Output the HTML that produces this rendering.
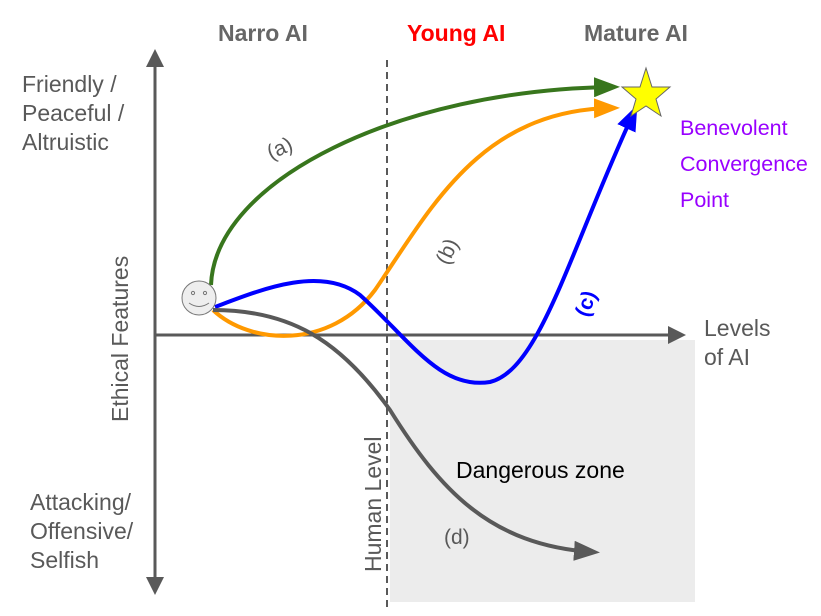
<!DOCTYPE html>
<html><head><style>body{margin:0;background:#fff}svg{display:block;font-family:"Liberation Sans",sans-serif}</style></head>
<body>
<svg width="821" height="616" viewBox="0 0 821 616" xmlns="http://www.w3.org/2000/svg">
<defs>
<marker id="ag" markerWidth="6.5" markerHeight="5" refX="4.5" refY="2.5" orient="auto" markerUnits="strokeWidth"><path d="M0,0 L6.5,2.5 L0,5z" fill="#38761d"/></marker>
<marker id="ao" markerWidth="6.5" markerHeight="5" refX="4.5" refY="2.5" orient="auto" markerUnits="strokeWidth"><path d="M0,0 L6.5,2.5 L0,5z" fill="#ff9900"/></marker>
<marker id="ab" markerWidth="6.5" markerHeight="5" refX="4.5" refY="2.5" orient="auto" markerUnits="strokeWidth"><path d="M0,0 L6.5,2.5 L0,5z" fill="#0000ff"/></marker>
<marker id="ad" markerWidth="6.5" markerHeight="5" refX="4.5" refY="2.5" orient="auto" markerUnits="strokeWidth"><path d="M0,0 L6.5,2.5 L0,5z" fill="#595959"/></marker>
<marker id="ax" markerWidth="6" markerHeight="6" refX="5" refY="3" orient="auto" markerUnits="strokeWidth"><path d="M0,0 L6,3 L0,6z" fill="#595959"/></marker>
</defs>
<rect x="390" y="340" width="305" height="262" fill="#ececec"/>
<line x1="155" y1="590" x2="155" y2="52" stroke="#595959" stroke-width="3" marker-end="url(#ax)"/>
<line x1="155" y1="100" x2="155" y2="592" stroke="#595959" stroke-width="3" marker-end="url(#ax)"/>
<line x1="155" y1="335" x2="683" y2="335" stroke="#595959" stroke-width="3" marker-end="url(#ax)"/>
<line x1="387" y1="60" x2="387" y2="610" stroke="#595959" stroke-width="2" stroke-dasharray="7,5"/>
<path d="M211,285 C215,180 400,90 612,87" fill="none" stroke="#38761d" stroke-width="4" marker-end="url(#ag)"/>
<path d="M213,310 C250,345 330,350 375,290 C430,210 480,110 612,108" fill="none" stroke="#ff9900" stroke-width="4" marker-end="url(#ao)"/>
<path d="M215,307 C260,290 320,265 360,295 C410,340 440,390 490,382 C540,370 570,250 634,112" fill="none" stroke="#0000ff" stroke-width="4" marker-end="url(#ab)"/>
<path d="M213,310 C290,310 340,340 390,410 C440,490 490,545 592,552" fill="none" stroke="#595959" stroke-width="4" marker-end="url(#ad)"/>
<circle cx="199" cy="298" r="17" fill="#eeeeee" stroke="#777" stroke-width="1"/>
<circle cx="193" cy="293" r="1.6" fill="none" stroke="#777"/><circle cx="205" cy="293" r="1.6" fill="none" stroke="#777"/>
<path d="M189,303 Q199,310 209,303" fill="none" stroke="#777"/>
<polygon points="646,68 652,87 670,87 656,99 661,116 646,106 631,116 636,99 622,87 640,87" fill="#ffff00" stroke="#666" stroke-width="1"/>
<g font-size="23" fill="#595959">
<text x="218" y="41" font-weight="bold" fill="#666">Narro AI</text>
<text x="407" y="41" font-weight="bold" fill="#ff0000">Young AI</text>
<text x="584" y="41" font-weight="bold" fill="#666">Mature AI</text>
<text x="22" y="92">Friendly /</text>
<text x="22" y="121">Peaceful /</text>
<text x="22" y="150">Altruistic</text>
<text x="30" y="510">Attacking/</text>
<text x="30" y="539">Offensive/</text>
<text x="30" y="568">Selfish</text>
<text x="704" y="336">Levels</text>
<text x="704" y="365">of AI</text>
<text transform="translate(128,422) rotate(-90)">Ethical Features</text>
<text transform="translate(381,572) rotate(-90)">Human Level</text>
<text transform="translate(271,160) rotate(-25)" font-size="21">(a)</text>
<text transform="translate(448,266) rotate(-65)" font-size="21">(b)</text>
<text transform="translate(588,318) rotate(-70)" fill="#0000ff" font-weight="bold" font-size="21">(c)</text>
<text x="444" y="544" font-size="21">(d)</text>
<text x="456" y="478" fill="#000" font-size="23">Dangerous zone</text>
</g>
<g font-size="21.5" fill="#9900ff">
<text x="680" y="135">Benevolent</text>
<text x="680" y="171">Convergence</text>
<text x="680" y="207">Point</text>
</g>
</svg>
</body></html>
